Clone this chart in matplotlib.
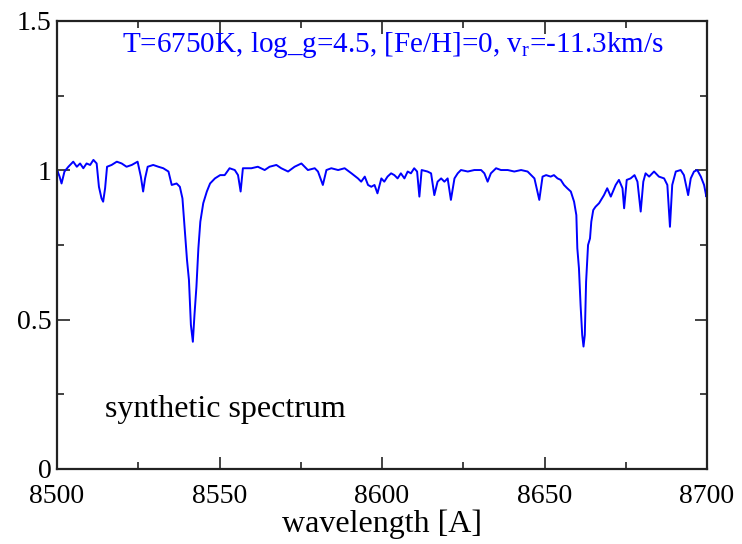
import numpy as np
import matplotlib
matplotlib.use("Agg")
import matplotlib.pyplot as plt
from matplotlib.ticker import MultipleLocator

# ================== data ==================
wave = [
    8500.0, 8500.2, 8500.8, 8501.4, 8502.3, 8503.5, 8505.0, 8506.1, 8507.1, 8508.1,
    8509.1, 8510.2, 8511.2, 8512.2, 8512.9, 8513.7, 8514.2, 8514.8, 8515.4, 8516.8,
    8518.4, 8519.9, 8521.4, 8523.0, 8524.8, 8525.8, 8526.5, 8527.1, 8527.9, 8529.6,
    8531.2, 8532.7, 8534.3, 8535.3, 8536.8, 8537.8, 8538.6, 8539.2, 8540.0, 8540.6,
    8541.2, 8541.8, 8542.3, 8542.9, 8543.5, 8544.1, 8545.0, 8546.1, 8547.1, 8548.6,
    8550.2, 8551.6, 8553.1, 8554.7, 8555.7, 8556.5, 8557.2, 8559.8, 8561.8, 8563.9,
    8565.4, 8567.5, 8569.0, 8571.1, 8573.1, 8575.2, 8577.2, 8579.3, 8580.3, 8581.8,
    8582.9, 8584.4, 8586.5, 8588.5, 8590.6, 8592.6, 8593.6, 8594.7, 8595.7, 8596.7,
    8597.7, 8598.6, 8599.8, 8600.7, 8601.7, 8602.8, 8603.8, 8604.8, 8605.8, 8606.9,
    8607.9, 8608.9, 8609.9, 8610.8, 8611.5, 8612.2, 8614.0, 8615.1, 8616.1, 8617.1,
    8618.2, 8619.2, 8620.2, 8621.2, 8622.3, 8623.3, 8624.3, 8626.4, 8628.4, 8630.5,
    8631.5, 8632.5, 8633.5, 8635.1, 8636.6, 8638.7, 8640.7, 8642.8, 8644.8, 8646.9,
    8648.4, 8649.4, 8650.5, 8651.9, 8652.9, 8654.0, 8655.0, 8656.0, 8657.0, 8658.1,
    8659.1, 8659.8, 8660.1, 8660.6, 8661.1, 8661.6, 8662.0, 8662.4, 8662.8, 8663.4,
    8664.0, 8664.4, 8665.0, 8665.7, 8666.8, 8668.3, 8669.3, 8670.4, 8671.9, 8672.9,
    8674.0, 8674.5, 8675.3, 8676.5, 8677.7, 8678.6, 8679.6, 8680.4, 8681.1, 8682.2,
    8683.7, 8685.2, 8686.8, 8687.8, 8688.6, 8689.3, 8690.4, 8691.9, 8692.9, 8694.2,
    8695.0, 8696.0, 8697.0, 8698.1, 8699.1, 8699.8, 8700.0,
]
flux = [
    0.985, 0.996, 0.979, 0.956, 0.996, 1.012, 1.029, 1.012, 1.023, 1.007,
    1.023, 1.018, 1.035, 1.023, 0.945, 0.906, 0.895, 0.940, 1.012, 1.018,
    1.029, 1.023, 1.012, 1.018, 1.029, 0.979, 0.929, 0.973, 1.012, 1.018,
    1.012, 1.007, 0.996, 0.951, 0.956, 0.945, 0.906, 0.817, 0.700, 0.633,
    0.482, 0.426, 0.516, 0.610, 0.739, 0.828, 0.890, 0.929, 0.956, 0.973,
    0.984, 0.984, 1.007, 1.001, 0.984, 0.929, 1.007, 1.007, 1.012, 1.001,
    1.012, 1.018, 1.007, 0.996, 1.012, 1.023, 1.001, 1.007, 0.996, 0.951,
    1.001, 1.007, 1.001, 1.007, 0.990, 0.973, 0.962, 0.979, 0.951, 0.945,
    0.951, 0.923, 0.973, 0.962, 0.979, 0.990, 0.984, 0.973, 0.990, 0.973,
    0.996, 0.990, 1.007, 0.996, 0.912, 1.001, 0.996, 0.990, 0.917, 0.962,
    0.973, 0.962, 0.973, 0.901, 0.973, 0.990, 1.001, 0.996, 1.001, 1.001,
    0.990, 0.962, 0.990, 1.007, 1.001, 1.001, 0.996, 1.001, 0.996, 0.973,
    0.901, 0.979, 0.984, 0.979, 0.984, 0.973, 0.968, 0.951, 0.940, 0.929,
    0.895, 0.850, 0.739, 0.672, 0.549, 0.449, 0.410, 0.449, 0.627, 0.750,
    0.772, 0.828, 0.867, 0.878, 0.890, 0.917, 0.940, 0.912, 0.951, 0.968,
    0.940, 0.873, 0.968, 0.973, 0.984, 0.962, 0.862, 0.962, 0.990, 0.979,
    0.996, 0.979, 0.973, 0.951, 0.811, 0.951, 0.996, 1.001, 0.984, 0.917,
    0.973, 0.996, 1.001, 0.979, 0.951, 0.912, 0.930,
]

XLIM = (8500, 8700)
YLIM = (0, 1.5)
XTICKS = [8500, 8550, 8600, 8650, 8700]
YTICKS = [0, 0.5, 1, 1.5]
YTICK_LABELS = ["0", "0.5", "1", "1.5"]

PARAM_TEXT = "T=6750K, log_g=4.5, [Fe/H]=0, v$_{\\rm r}$=-11.3km/s"
LABEL_TEXT = "synthetic spectrum"
XLABEL = "wavelength [A]"
# ===================================================================

plt.rcParams["font.family"] = ["Liberation Serif", "DejaVu Serif"]
plt.rcParams["mathtext.fontset"] = "custom"
plt.rcParams["mathtext.rm"] = "Liberation Serif"
plt.rcParams["mathtext.it"] = "Liberation Serif:italic"

fig = plt.figure(figsize=(7.42, 5.44), dpi=100)
ax = fig.add_axes([57 / 742, 75 / 544, 650 / 742, 448 / 544])

ax.plot(wave, flux, color="#0000ff", linewidth=1.4)

ax.set_xlim(*XLIM)
ax.set_ylim(*YLIM)
ax.set_xticks(XTICKS)
ax.set_yticks(YTICKS)
ax.set_yticklabels(YTICK_LABELS)
ax.xaxis.set_minor_locator(MultipleLocator(25))
ax.yaxis.set_minor_locator(MultipleLocator(0.25))

ax.tick_params(which="both", direction="in", top=True, right=True,
               width=1.2, colors="#222222", labelcolor="black")
ax.tick_params(which="major", length=9, labelsize=20)
ax.tick_params(axis="y", which="major", pad=4)
ax.tick_params(axis="x", which="major", pad=11)
ax.tick_params(which="minor", length=5)
for sp in ax.spines.values():
    sp.set_linewidth(1.6)
    sp.set_color("#222222")

ax.set_xlabel(XLABEL, fontsize=23, labelpad=0)

ax.text(0.10, 1.42, PARAM_TEXT, color="#0000ff", fontsize=21,
        transform=ax.get_yaxis_transform(), va="center", ha="left")
ax.text(8514.7, 0.2, LABEL_TEXT, color="black", fontsize=23,
        va="center", ha="left")

fig.savefig("out.png", dpi=100)
